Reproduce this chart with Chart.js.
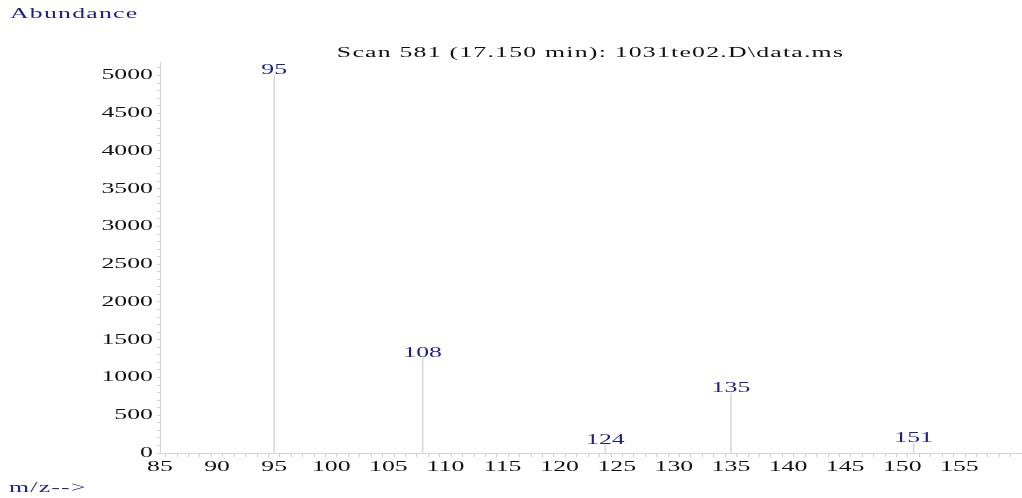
<!DOCTYPE html>
<html><head><meta charset="utf-8">
<script src="https://cdn.jsdelivr.net/npm/chart.js@4.4.1/dist/chart.umd.min.js"></script>
<style>html,body{margin:0;padding:0;background:#fff;}canvas{display:block;}</style>
</head><body>
<canvas id="c" width="1022" height="498" style="width:1022px;height:498px"></canvas>
<script>
// ---- data ----
const mzValues = [95, 108, 124, 135, 151];
const abundanceValues = [5000, 1260, 110, 795, 130];
const peakLabels = ['95', '108', '124', '135', '151'];
const xTickLabels = [85, 90, 95, 100, 105, 110, 115, 120, 125, 130, 135, 140, 145, 150, 155];
const yTickLabels = [0, 500, 1000, 1500, 2000, 2500, 3000, 3500, 4000, 4500, 5000];
const titleText = 'Scan 581 (17.150 min): 1031te02.D\\data.ms';
const yTitleText = 'Abundance';
const xTitleText = 'm/z-->';

const FONT = 'Liberation Serif';
const FSIZE = 15;
const STRETCH = 1.72;
const NAVY = '#1f1f8a';

// The reference uses a horizontally stretched serif face: widen glyphs when drawing text.
const canvas = document.getElementById('c');
const ctx0 = canvas.getContext('2d');
(function patch(ctx) {
  const origFill = ctx.fillText.bind(ctx);
  const origMeasure = ctx.measureText.bind(ctx);
  const sp = t => /[A-Za-z]/.test(t) ? '0.7px' : '0px';
  ctx.fillText = function (text, x, y) {
    text = String(text);
    ctx.save();
    ctx.letterSpacing = sp(text);
    ctx.translate(x, y);
    ctx.scale(STRETCH, 1);
    origFill(text, 0, 0);
    ctx.restore();
  };
  ctx.measureText = function (text) {
    text = String(text);
    const prev = ctx.letterSpacing;
    ctx.letterSpacing = sp(text);
    const m = origMeasure(text);
    ctx.letterSpacing = prev;
    return {
      width: m.width * STRETCH,
      actualBoundingBoxAscent: m.actualBoundingBoxAscent,
      actualBoundingBoxDescent: m.actualBoundingBoxDescent,
      actualBoundingBoxLeft: m.actualBoundingBoxLeft * STRETCH,
      actualBoundingBoxRight: m.actualBoundingBoxRight * STRETCH,
      fontBoundingBoxAscent: m.fontBoundingBoxAscent,
      fontBoundingBoxDescent: m.fontBoundingBoxDescent
    };
  };
})(ctx0);

const labelPlugin = {
  id: 'peakLabels',
  afterDraw(chart) {
    const ctx = chart.ctx;
    const xs = chart.scales.x, ys = chart.scales.y;
    ctx.save();
    ctx.font = FSIZE + 'px "' + FONT + '"';
    ctx.fillStyle = NAVY;
    ctx.textAlign = 'center';
    ctx.textBaseline = 'alphabetic';
    mzValues.forEach((mz, i) => {
      const px = xs.getPixelForValue(mz);
      const py = ys.getPixelForValue(abundanceValues[i]);
      ctx.fillText(peakLabels[i], px, py - 1);
    });
    ctx.textAlign = 'left';
    ctx.textBaseline = 'middle';
    ctx.fillText(xTitleText, 9, 488);
    ctx.restore();
  }
};

const chart = new Chart(canvas, {
  type: 'bar',
  data: {
    datasets: [{
      data: mzValues.map((m, i) => ({ x: m, y: abundanceValues[i] })),
      backgroundColor: '#d9d9d9',
      borderWidth: 0,
      barThickness: 1
    }]
  },
  plugins: [labelPlugin],
  options: {
    responsive: false,
    animation: false,
    devicePixelRatio: 1,
    layout: { padding: { left: 10, right: 1, top: 0, bottom: 0 } },
    plugins: {
      legend: { display: false },
      tooltip: { enabled: false },
      title: {
        display: true, text: yTitleText, align: 'start', color: NAVY,
        font: { family: FONT, size: FSIZE, weight: 'normal' },
        padding: { top: 5.5, bottom: 0 }
      },
      subtitle: {
        display: true, text: titleText, align: 'center', color: '#111',
        fullSize: false,
        font: { family: FONT, size: FSIZE, weight: 'normal' },
        padding: { top: 21, bottom: 0 }
      }
    },
    scales: {
      x: {
        type: 'linear', min: 85, max: 160.4, offset: false,
        afterFit(s) { s.height = 45; },
        grid: { drawOnChartArea: false, drawTicks: true, tickLength: 4, color: '#cccccc' },
        border: { display: true, color: '#d4d4d4' },
        ticks: {
          stepSize: 1, autoSkip: false, maxRotation: 0, includeBounds: false,
          padding: 1, color: '#111',
          font: { family: FONT, size: FSIZE },
          callback: v => xTickLabels.includes(v) ? String(v) : ''
        }
      },
      y: {
        type: 'linear', min: 0, max: 5172,
        afterFit(s) { s.width = 150; },
        grid: { drawOnChartArea: false, drawTicks: true, tickLength: 3, color: '#d4d4d4' },
        border: { display: true, color: '#d4d4d4' },
        ticks: {
          stepSize: 100, autoSkip: false, includeBounds: false,
          padding: 4, color: '#111',
          font: { family: FONT, size: FSIZE },
          callback: v => yTickLabels.includes(v) ? String(v) : ''
        }
      }
    }
  }
});
</script>
</body></html>
